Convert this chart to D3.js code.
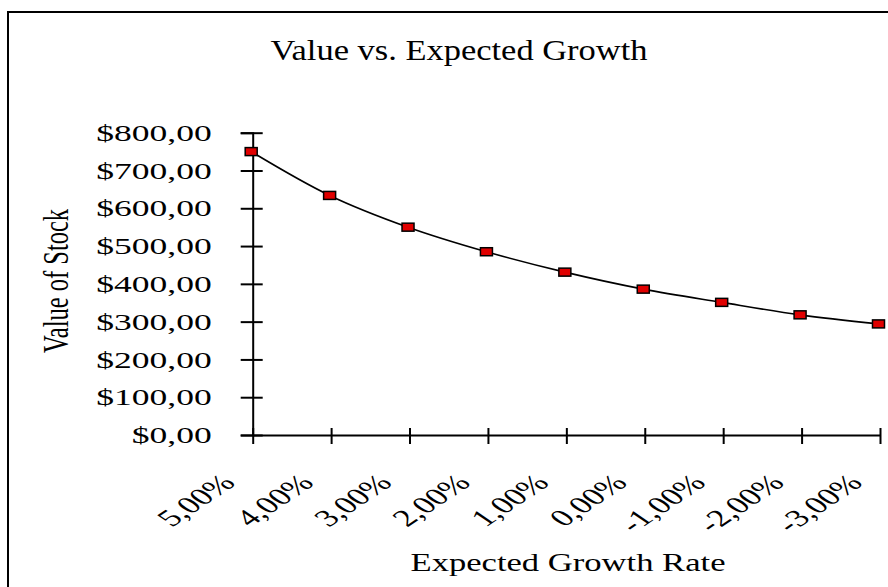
<!DOCTYPE html>
<style>
body {
  margin: 0;
  background-color: #ffffff;
}
svg text {
  font-family: "Liberation Serif", "Times New Roman", serif;
  fill: #000;
}
</style>
<svg width="888" height="587"></svg>
<script src="https://d3js.org/d3.v7.min.js"></script>
<script>
// chart values
var growthLabels = ["5,00%", "4,00%", "3,00%", "2,00%", "1,00%", "0,00%", "-1,00%", "-2,00%", "-3,00%"];
var stockValues = [750, 634, 550, 485, 431, 386, 351, 318, 294];
var yTicks = [0, 100, 200, 300, 400, 500, 600, 700, 800];
var yTickLabels = ["$0,00", "$100,00", "$200,00", "$300,00", "$400,00", "$500,00", "$600,00", "$700,00", "$800,00"];

var svg = d3.select("svg");
var stretch = 1.48; // the original picture is wider than tall

// outer frame, runs off the right and bottom edge
svg.append("rect")
    .attr("x", 8)
    .attr("y", 12)
    .attr("width", 920)
    .attr("height", 620)
    .attr("fill", "none")
    .attr("stroke", "#000")
    .attr("stroke-width", 2);

var x = d3.scalePoint()
    .domain(growthLabels)
    .range([252.7, 880]);

var y = d3.scaleLinear()
    .domain([0, 800])
    .range([435, 132.7]);

// y axis
var yAxis = svg.append("g")
    .attr("transform", "translate(" + x.range()[0] + ",0)")
    .call(d3.axisLeft(y).tickValues(yTicks).tickSize(12).tickFormat(""));
yAxis.select(".domain").attr("stroke", "#000").attr("stroke-width", 2);
yAxis.selectAll(".tick line")
    .attr("x1", 10)
    .attr("x2", -12)
    .attr("stroke", "#000")
    .attr("stroke-width", 2);

// x axis
var xAxis = svg.append("g")
    .attr("transform", "translate(0," + y(0) + ")")
    .call(d3.axisBottom(x).tickSize(9).tickSizeOuter(0).tickFormat(""));
xAxis.select(".domain").attr("stroke", "#000").attr("stroke-width", 2);
xAxis.selectAll(".tick line")
    .attr("y1", -7)
    .attr("y2", 9)
    .attr("stroke", "#000")
    .attr("stroke-width", 2);

// y tick labels
svg.append("g")
  .selectAll("g")
  .data(yTicks)
  .enter().append("g")
    .attr("transform", function(d) { return "translate(211.7," + y(d) + ") scale(" + stretch + ",1)"; })
  .append("text")
    .attr("text-anchor", "end")
    .attr("dy", "0.34em")
    .style("font-size", "24px")
    .text(function(d, i) { return yTickLabels[i]; });

// x tick labels, slanted
svg.append("g")
  .selectAll("g")
  .data(growthLabels)
  .enter().append("g")
    .attr("transform", function(d) { return "translate(" + (x(d) - 16) + "," + (y(0) + 49) + ") scale(" + stretch + ",1) rotate(-45)"; })
  .append("text")
    .attr("text-anchor", "end")
    .style("font-size", "24px")
    .text(function(d) { return d; });

// line
var line = d3.line()
    .x(function(d, i) { return x(growthLabels[i]) - 1.5; })
    .y(function(d) { return y(d); })
    .curve(d3.curveCatmullRom);

svg.append("path")
    .datum(stockValues)
    .attr("d", line)
    .attr("fill", "none")
    .attr("stroke", "#000")
    .attr("stroke-width", 1.6);

// square markers
svg.append("g")
  .selectAll("rect")
  .data(stockValues)
  .enter().append("rect")
    .attr("x", function(d, i) { return x(growthLabels[i]) - 1.5 - 6; })
    .attr("y", function(d) { return y(d) - 4; })
    .attr("width", 12)
    .attr("height", 8)
    .attr("fill", "#e00000")
    .attr("stroke", "#000")
    .attr("stroke-width", 1.5);

// title
svg.append("text")
    .attr("x", 459)
    .attr("y", 59.5)
    .attr("text-anchor", "middle")
    .attr("textLength", 377)
    .attr("lengthAdjust", "spacingAndGlyphs")
    .style("font-size", "30px")
    .text("Value vs. Expected Growth");

// axis titles
svg.append("text")
    .attr("x", 568)
    .attr("y", 570.7)
    .attr("text-anchor", "middle")
    .attr("textLength", 315)
    .attr("lengthAdjust", "spacingAndGlyphs")
    .style("font-size", "26px")
    .text("Expected Growth Rate");

svg.append("g")
    .attr("transform", "translate(68,281) scale(" + stretch + ",1) rotate(-90)")
  .append("text")
    .attr("text-anchor", "middle")
    .style("font-size", "24.5px")
    .text("Value of Stock");
</script>
